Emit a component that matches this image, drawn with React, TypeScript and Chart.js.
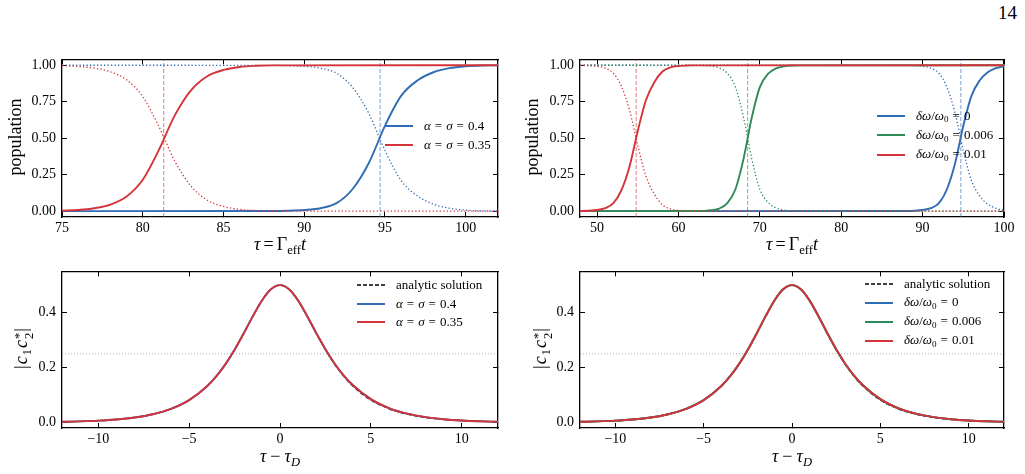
import React, { useEffect, useRef } from 'react';
import { Chart, registerables } from 'chart.js';

Chart.register(...registerables);

const SERIF = '"Liberation Serif", "DejaVu Serif", serif';
Chart.defaults.font.family = SERIF;

// ---------------- data ----------------
// Top-left panel: populations vs τ = Γ_eff t
const tlTauA035 = [75, 76, 77, 78, 79, 80, 81, 82, 83, 84, 85, 86, 87, 88, 102];
const tlUpperA035 = [0.003, 0.008, 0.02, 0.045, 0.1, 0.215, 0.42, 0.66, 0.83, 0.925, 0.968, 0.988, 0.996, 0.999, 1];
const tlLowerA035 = [0.997, 0.992, 0.98, 0.955, 0.9, 0.785, 0.58, 0.34, 0.17, 0.075, 0.032, 0.012, 0.004, 0.001, 0];
const tlTauA04 = [75, 88, 89, 90, 91, 92, 93, 94, 95, 96, 97, 98, 99, 100, 101, 102];
const tlUpperA04 = [0, 0.001, 0.003, 0.008, 0.02, 0.055, 0.152, 0.33, 0.585, 0.79, 0.895, 0.952, 0.98, 0.993, 0.998, 0.999];
const tlLowerA04 = [1, 0.999, 0.997, 0.992, 0.98, 0.945, 0.848, 0.67, 0.415, 0.21, 0.105, 0.048, 0.02, 0.007, 0.002, 0.001];
const tlCrossings = [81.3, 94.7]; // α=σ=0.35, α=σ=0.4

// Top-right panel
const trTauD001 = [47.9, 49, 50, 51, 52, 53, 54, 55, 56, 57, 58, 59, 60, 61, 62, 100];
const trUpperD001 = [0.001, 0.003, 0.008, 0.02, 0.055, 0.145, 0.31, 0.55, 0.76, 0.88, 0.955, 0.985, 0.995, 0.998, 0.999, 1];
const trLowerD001 = [0.999, 0.997, 0.992, 0.98, 0.945, 0.855, 0.69, 0.45, 0.24, 0.12, 0.045, 0.015, 0.005, 0.002, 0.001, 0];
const trTauD0006 = [47.9, 62, 63, 64, 65, 66, 67, 68, 69, 70, 71, 72, 73, 74, 75, 100];
const trUpperD0006 = [0, 0.001, 0.002, 0.006, 0.018, 0.055, 0.15, 0.36, 0.64, 0.85, 0.94, 0.978, 0.993, 0.998, 0.999, 1];
const trLowerD0006 = [1, 0.999, 0.998, 0.994, 0.982, 0.945, 0.85, 0.64, 0.36, 0.15, 0.06, 0.022, 0.007, 0.002, 0.001, 0];
const trTauD0 = [47.9, 88, 89, 90, 91, 92, 93, 94, 95, 96, 97, 98, 99, 100];
const trUpperD0 = [0, 0.001, 0.003, 0.008, 0.02, 0.055, 0.152, 0.33, 0.585, 0.79, 0.895, 0.952, 0.98, 0.993];
const trLowerD0 = [1, 0.999, 0.997, 0.992, 0.98, 0.945, 0.848, 0.67, 0.415, 0.21, 0.105, 0.048, 0.02, 0.007];
const trCrossings = [54.8, 68.5, 94.7]; // 0.01, 0.006, 0

// Bottom panels: |c1 c2*| vs τ − τ_D
const tauRel = [-12, -11, -10, -9, -8, -7, -6, -5, -4, -3.5, -3, -2.5, -2, -1.5, -1, -0.5, 0, 0.5, 1, 1.5, 2, 2.5, 3, 3.5, 4, 5, 6, 7, 8, 9, 10, 11, 12];
const coherenceAnalytic = [0.0025, 0.0041, 0.0067, 0.0111, 0.0183, 0.0302, 0.0497, 0.0815, 0.1329, 0.1687, 0.2125, 0.2648, 0.324, 0.3862, 0.4434, 0.4848, 0.5, 0.4848, 0.4434, 0.3862, 0.324, 0.2648, 0.2125, 0.1687, 0.1329, 0.0815, 0.0497, 0.0302, 0.0183, 0.0111, 0.0067, 0.0041, 0.0025];
const coherenceNumeric = [0.0025, 0.0041, 0.0067, 0.0111, 0.0183, 0.0302, 0.0497, 0.0815, 0.1329, 0.1687, 0.2125, 0.2648, 0.324, 0.3862, 0.4434, 0.4848, 0.5, 0.4849, 0.4437, 0.3868, 0.3250, 0.2664, 0.2150, 0.1718, 0.1364, 0.0852, 0.0527, 0.0322, 0.0196, 0.0119, 0.0071, 0.0043, 0.0026];
const halfMaxLevel = 0.25;

// ticks
const tlXTicks = [75, 80, 85, 90, 95, 100];
const trXTicks = [50, 60, 70, 80, 90, 100];
const popYTicks = [0, 0.25, 0.5, 0.75, 1];
const relXTicks = [-10, -5, 0, 5, 10];
const cohYTicks = [0, 0.2, 0.4];

// legend labels
const tlLabels = ['α=σ=0.4', 'α=σ=0.35'];
const trLabels = ['δω/ω₀=0', 'δω/ω₀=0.006', 'δω/ω₀=0.01'];
const analyticLabel = 'analytic solution';

// ---------------- styles ----------------
const BLUE = '#2f6db4';
const RED = '#d3343a';
const GREEN = '#2e8a56';
const BLUE_L = 'rgba(47,109,180,0.65)';
const RED_L = 'rgba(211,52,58,0.65)';
const GREEN_L = 'rgba(46,138,86,0.65)';

type Line = { x: number[]; y: number[]; color: string; width: number; dash?: number[]; smooth?: boolean };

const solid = (x: number[], y: number[], color: string): Line => ({ x, y, color, width: 1.9, smooth: true });
const dotted = (x: number[], y: number[], color: string): Line => ({ x, y, color, width: 1.3, dash: [1.3, 2.2], smooth: true });
const vline = (c: number, color: string, yr: number[]): Line => ({ x: [c, c], y: [yr[0], yr[1]], color, width: 1, dash: [4, 2] });
const hline = (v: number, color: string, xr: number[]): Line => ({ x: [xr[0], xr[1]], y: [v, v], color, width: 0.9, dash: [1, 2] });

const popY = [-0.04, 1.04];
const cohY = [-0.02, 0.55];
const tlX = [75, 102];
const trX = [47.9, 100];
const relX = [-12, 12];

const fmtInt = (v: number) => (v < 0 ? '\u2212' + Math.abs(v) : String(v));
const fmt2 = (v: number) => v.toFixed(2);
const fmt1 = (v: number) => v.toFixed(1);

type PanelDef = {
  box: number[]; // canvas left, top, width, height
  plot: number[]; // left, top, right, bottom
  xr: number[]; yr: number[];
  xTicks: number[]; yTicks: number[];
  xFmt: (v: number) => string; yFmt: (v: number) => string;
  lines: Line[]; // bottom -> top
};

const panels: PanelDef[] = [
  {
    box: [0, 40, 512, 200], plot: [62, 56, 498, 217], xr: tlX, yr: popY,
    xTicks: tlXTicks, yTicks: popYTicks, xFmt: fmtInt, yFmt: fmt2,
    lines: [
      vline(tlCrossings[1], BLUE_L, popY),
      vline(tlCrossings[0], RED_L, popY),
      dotted(tlTauA04, tlLowerA04, BLUE),
      solid(tlTauA04, tlUpperA04, BLUE),
      dotted(tlTauA035, tlLowerA035, RED),
      solid(tlTauA035, tlUpperA035, RED),
    ],
  },
  {
    box: [514, 40, 511, 200], plot: [580, 56, 1004, 217], xr: trX, yr: popY,
    xTicks: trXTicks, yTicks: popYTicks, xFmt: fmtInt, yFmt: fmt2,
    lines: [
      vline(trCrossings[2], BLUE_L, popY),
      vline(trCrossings[1], GREEN_L, popY),
      vline(trCrossings[0], RED_L, popY),
      dotted(trTauD0, trLowerD0, BLUE),
      solid(trTauD0, trUpperD0, BLUE),
      dotted(trTauD0006, trLowerD0006, GREEN),
      solid(trTauD0006, trUpperD0006, GREEN),
      dotted(trTauD001, trLowerD001, RED),
      solid(trTauD001, trUpperD001, RED),
    ],
  },
  {
    box: [0, 252, 512, 200], plot: [62, 267, 498, 428], xr: relX, yr: cohY,
    xTicks: relXTicks, yTicks: cohYTicks, xFmt: fmtInt, yFmt: fmt1,
    lines: [
      hline(halfMaxLevel, 'rgba(0,0,0,0.35)', relX),
      { x: tauRel, y: coherenceAnalytic, color: '#000', width: 1.2, dash: [4.5, 2], smooth: true },
      solid(tauRel, coherenceNumeric, BLUE),
      solid(tauRel, coherenceNumeric, RED),
    ],
  },
  {
    box: [514, 252, 511, 200], plot: [580, 267, 1004, 428], xr: relX, yr: cohY,
    xTicks: relXTicks, yTicks: cohYTicks, xFmt: fmtInt, yFmt: fmt1,
    lines: [
      hline(halfMaxLevel, 'rgba(0,0,0,0.35)', relX),
      { x: tauRel, y: coherenceAnalytic, color: '#000', width: 1.2, dash: [4.5, 2], smooth: true },
      solid(tauRel, coherenceNumeric, BLUE),
      solid(tauRel, coherenceNumeric, GREEN),
      solid(tauRel, coherenceNumeric, RED),
    ],
  },
];

function Panel({ def }: { def: PanelDef }) {
  const ref = useRef<HTMLCanvasElement>(null);
  useEffect(() => {
    const [bl, bt, bw, bh] = def.box;
    const [pl, pt, pr, pb] = def.plot;
    const yW = pl - bl;
    const xH = bt + bh - pb;
    const padTop = pt - bt;
    const padRight = bl + bw - pr;
    const setTicks = (vals: number[]) => (s: any) => { s.ticks = vals.map((v) => ({ value: v })); };
    const tickFont = { family: SERIF, size: 14 };
    const grid = { display: true, drawOnChartArea: false, drawTicks: true, tickLength: -5, color: '#000', tickColor: '#000', lineWidth: 1 };
    const border = { display: true, color: '#000', width: 1.3 };
    const n = def.lines.length;
    const chart = new Chart(ref.current as HTMLCanvasElement, {
      type: 'line',
      data: {
        datasets: def.lines.map((l, i) => ({
          data: l.x.map((x, j) => ({ x, y: l.y[j] })),
          borderColor: l.color,
          borderWidth: l.width,
          borderDash: l.dash || [],
          borderCapStyle: 'butt',
          pointRadius: 0,
          pointHoverRadius: 0,
          fill: false,
          tension: 0,
          cubicInterpolationMode: l.smooth ? 'monotone' : 'default',
          order: n - i,
        })),
      },
      options: {
        responsive: false,
        animation: false,
        devicePixelRatio: 1,
        events: [],
        layout: { padding: { top: padTop, right: padRight, left: 0, bottom: 0 } },
        plugins: { legend: { display: false }, tooltip: { enabled: false }, title: { display: false } },
        scales: {
          x: {
            type: 'linear', position: 'bottom', min: def.xr[0], max: def.xr[1],
            afterBuildTicks: setTicks(def.xTicks),
            afterFit: (s: any) => { s.height = xH; },
            ticks: { font: tickFont, color: '#000', padding: 8, maxRotation: 0, autoSkip: false, callback: (v: any) => def.xFmt(Number(v)) },
            grid, border,
          },
          x2: {
            type: 'linear', position: 'top', min: def.xr[0], max: def.xr[1],
            afterBuildTicks: setTicks(def.xTicks),
            afterFit: (s: any) => { s.height = 0; },
            ticks: { display: false },
            grid, border,
          },
          y: {
            type: 'linear', position: 'left', min: def.yr[0], max: def.yr[1],
            afterBuildTicks: setTicks(def.yTicks),
            afterFit: (s: any) => { s.width = yW; },
            ticks: { font: tickFont, color: '#000', padding: 11, autoSkip: false, callback: (v: any) => def.yFmt(Number(v)) },
            grid, border,
          },
          y2: {
            type: 'linear', position: 'right', min: def.yr[0], max: def.yr[1],
            afterBuildTicks: setTicks(def.yTicks),
            afterFit: (s: any) => { s.width = 0; },
            ticks: { display: false },
            grid, border,
          },
        },
      } as any,
    });
    return () => chart.destroy();
  }, [def]);
  const [bl, bt, bw, bh] = def.box;
  return (
    <canvas
      ref={ref}
      width={bw}
      height={bh}
      style={{ position: 'absolute', left: bl, top: bt, width: bw, height: bh }}
    />
  );
}

const GREEK = 'αβγδεζηθικλμνξπρστυφχψω';
function renderMath(s: string) {
  const out: React.ReactNode[] = [];
  let buf = '';
  const flush = (k: number) => { if (buf) { out.push(<span key={'t' + k}>{buf}</span>); buf = ''; } };
  Array.from(s).forEach((ch, i) => {
    if (GREEK.includes(ch)) { flush(i); out.push(<i key={i}>{ch}</i>); }
    else if (ch === '=') { flush(i); out.push(<span key={i} style={{ margin: '0 4px' }}>=</span>); }
    else if (ch === '₀') { flush(i); out.push(<span key={i} style={{ fontSize: '0.7em', position: 'relative', top: '0.3em' }}>0</span>); }
    else buf += ch;
  });
  flush(999);
  return out;
}

type LegendItem = { label: string; color: string; width: number; dash?: number[] };

function Legend({ x, y, gap, items }: { x: number; y: number; gap: number; items: LegendItem[] }) {
  return (
    <>
      {items.map((it, i) => (
        <div
          key={i}
          style={{
            position: 'absolute', left: x, top: y + i * gap - 10, height: 20,
            display: 'flex', alignItems: 'center', fontSize: 13, whiteSpace: 'nowrap', lineHeight: '20px',
          }}
        >
          <svg width={28} height={4} style={{ marginRight: 11, display: 'block' }}>
            <line x1={0} y1={2} x2={28} y2={2} stroke={it.color} strokeWidth={it.width}
              strokeDasharray={it.dash ? it.dash.join(' ') : undefined} />
          </svg>
          <span>{renderMath(it.label)}</span>
        </div>
      ))}
    </>
  );
}

const sub = { fontSize: '0.7em', position: 'relative' as const, top: '0.3em' };

function YLabel({ cx, cy, children }: { cx: number; cy: number; children: React.ReactNode }) {
  return (
    <div style={{
      position: 'absolute', left: cx, top: cy, transform: 'translate(-50%,-50%) rotate(-90deg)',
      whiteSpace: 'nowrap', fontSize: 18, lineHeight: '22px',
    }}>{children}</div>
  );
}

function XLabel({ cx, top, children }: { cx: number; top: number; children: React.ReactNode }) {
  return (
    <div style={{
      position: 'absolute', left: cx - 100, width: 200, top, textAlign: 'center',
      whiteSpace: 'nowrap', fontSize: 18, lineHeight: '24px',
    }}>{children}</div>
  );
}

const tauGamma = (
  <span><i>τ</i><span style={{ margin: '0 3px' }}>=</span>Γ<span style={sub}>eff</span><i>t</i></span>
);
const tauRelLabel = (
  <span><i>τ</i><span style={{ margin: '0 4px' }}>−</span><i>τ</i><span style={sub}><i>D</i></span></span>
);
const cohLabel = (
  <span style={{ letterSpacing: 1 }}>
    |<i>c</i><span style={sub}>1</span><i>c</i>
    <span style={{ display: 'inline-flex', flexDirection: 'column', fontSize: '0.7em', lineHeight: 0.8, verticalAlign: '0.35em' }}>
      <span>*</span><span>2</span>
    </span>|
  </span>
);

export default function App() {
  return (
    <div style={{
      position: 'absolute', left: 0, top: 0, width: 1025, height: 474, overflow: 'hidden',
      background: '#fff', fontFamily: SERIF, color: '#000',
    }}>
      <div style={{ position: 'absolute', left: 980, width: 37, top: 1, textAlign: 'right', fontSize: 19, lineHeight: '24px' }}>14</div>
      {panels.map((p, i) => <Panel key={i} def={p} />)}

      <YLabel cx={15} cy={136.5}>population</YLabel>
      <YLabel cx={531.5} cy={136.5}>population</YLabel>
      <YLabel cx={22} cy={347.5}>{cohLabel}</YLabel>
      <YLabel cx={541} cy={347.5}>{cohLabel}</YLabel>

      <XLabel cx={280} top={232}>{tauGamma}</XLabel>
      <XLabel cx={792} top={232}>{tauGamma}</XLabel>
      <XLabel cx={280} top={444}>{tauRelLabel}</XLabel>
      <XLabel cx={792} top={444}>{tauRelLabel}</XLabel>

      <Legend x={385} y={126} gap={18.7} items={[
        { label: tlLabels[0], color: BLUE, width: 2 },
        { label: tlLabels[1], color: RED, width: 2 },
      ]} />
      <Legend x={877} y={116} gap={19.3} items={[
        { label: trLabels[0], color: BLUE, width: 2 },
        { label: trLabels[1], color: GREEN, width: 2 },
        { label: trLabels[2], color: RED, width: 2 },
      ]} />
      <Legend x={357} y={285} gap={18.7} items={[
        { label: analyticLabel, color: '#000', width: 1.3, dash: [4, 2] },
        { label: tlLabels[0], color: BLUE, width: 2 },
        { label: tlLabels[1], color: RED, width: 2 },
      ]} />
      <Legend x={865} y={284} gap={18.9} items={[
        { label: analyticLabel, color: '#000', width: 1.3, dash: [4, 2] },
        { label: trLabels[0], color: BLUE, width: 2 },
        { label: trLabels[1], color: GREEN, width: 2 },
        { label: trLabels[2], color: RED, width: 2 },
      ]} />
    </div>
  );
}
